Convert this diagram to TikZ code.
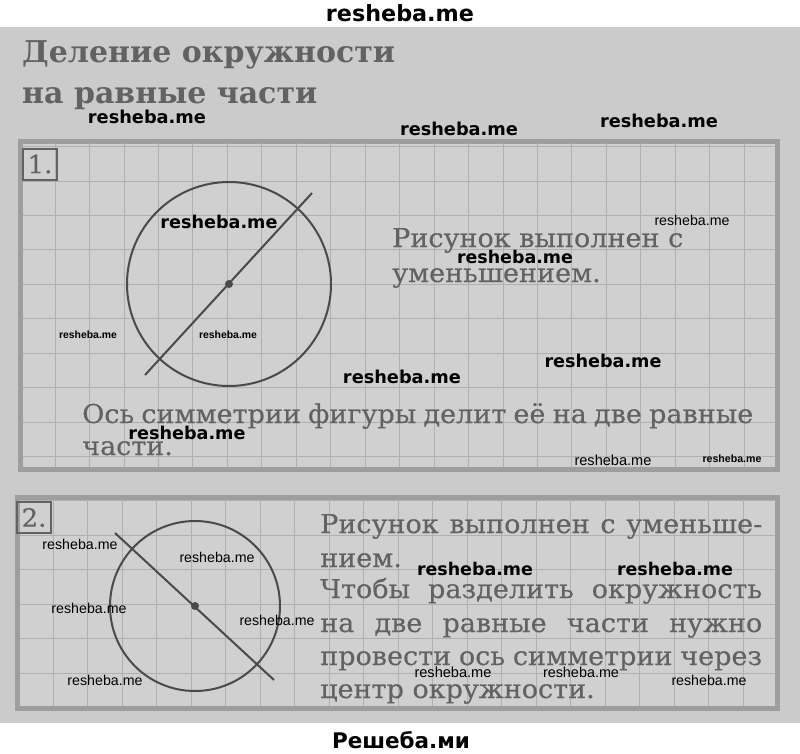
\documentclass[tikz,border=0pt]{standalone}
\usepackage{fontspec}
\setmainfont{DejaVu Serif}
\newfontfamily\bodyfont{DejaVu Serif}[FakeStretch=1.04, FakeBold=0.35]
\newfontfamily\wmfont{DejaVu Sans}
\newfontfamily\wmsfont{Liberation Sans}
\usepackage{graphicx}
\definecolor{pagegray}{HTML}{CBCBCB}
\definecolor{boxgray}{HTML}{D0D0D0}
\definecolor{gridgray}{HTML}{B0B0B0}
\definecolor{framegray}{HTML}{9E9E9E}
\definecolor{inkgray}{HTML}{626262}
\definecolor{figgray}{HTML}{4A4A4A}
\tikzset{
  frame/.style={draw=framegray, line width=5pt, fill=boxgray},
  gridline/.style={draw=gridgray, line width=0.8pt},
  figline/.style={draw=figgray, line width=2pt},
  dot/.style={circle, fill=figgray, inner sep=0pt, minimum size=8pt},
  title/.style={anchor=base west, inner sep=0pt, text=inkgray, font=\bfseries\fontsize{30}{30}\selectfont},
  body/.style={anchor=base west, inner sep=0pt, text=inkgray, font=\bodyfont\fontsize{26}{26}\selectfont},
  numbox/.style={draw=inkgray, line width=2pt, minimum width=34pt, minimum height=31pt, inner sep=0pt, text=inkgray, font=\bodyfont\fontsize{25}{25}\selectfont},
  wmb/.style={inner sep=0pt, text=black, font=\wmfont\bfseries},
  wms/.style={inner sep=0pt, text=black, font=\wmsfont},
}
\begin{document}
\begin{tikzpicture}[x=1pt,y=-1pt]
\useasboundingbox (0,0) rectangle (800,753);
\fill[white] (0,0) rectangle (800,753);
\fill[pagegray] (0,27) rectangle (800,723);

% title
\node[title] (t1) at (22,62) {Деление окружности};
\node[title] (t2) at (22,103) {на равные части};

% box 1
\draw[frame] (20,141) rectangle (777,469);
\begin{scope}
\clip (22.5,143.5) rectangle (774.5,466.5);
\foreach \i in {0,...,22} \draw[gridline] ({20.6+34.45*\i},141) -- ++(0,330);
\foreach \j in {0,...,9} \draw[gridline] (20,{146.5+34.45*\j}) -- ++(760,0);
\end{scope}
\node[numbox] (n1) at (40,164) {1.};
\draw[figline] (229,284) circle[radius=102pt];
\coordinate (l1a) at (145,375);
\coordinate (l1b) at (312,193);
\draw[figline] (l1a) -- (l1b);
\node[dot] (c1) at (229,284) {};
\node[body] (r1) at (392,247) {Рисунок выполнен с};
\node[body] (r2) at (392,282) {уменьшением.};
\node[body] (o1) at (82,423) {\makebox[671pt][s]{Ось симметрии фигуры делит её на две равные}};
\node[body] (o2) at (82,455) {части.};

% box 2
\draw[frame] (17,497) rectangle (777,708);
\begin{scope}
\clip (19.5,499.5) rectangle (774.5,705.5);
\foreach \i in {0,...,22} \draw[gridline] ({18.5+34.5*\i},497) -- ++(0,215);
\foreach \j in {0,...,6} \draw[gridline] (17,{500.5+34.5*\j}) -- ++(762,0);
\end{scope}
\node[numbox] (n2) at (34,517.5) {2.};
\draw[figline] (195,606) circle[radius=85pt];
\coordinate (l2a) at (115,533);
\coordinate (l2b) at (274,680);
\draw[figline] (l2a) -- (l2b);
\node[dot] (c2) at (195,606) {};
\node[body] (s1) at (320,533) {\makebox[442pt][s]{Рисунок выполнен с уменьше-}};
\node[body] (s2) at (320,567) {нием.};
\node[body] (s3) at (320,598) {\makebox[442pt][s]{Чтобы разделить окружность}};
\node[body] (s4) at (320,632) {\makebox[442pt][s]{на две равные части нужно}};
\node[body] (s5) at (320,665) {\makebox[442pt][s]{провести ось симметрии через}};
\node[body] (s6) at (320,698) {центр окружности.};

% watermarks
\node[wmb] (w0) at (400,13) {\resizebox{148pt}{!}{resheba.me}};
\node[wmb] (w1) at (147,117) {\resizebox{118pt}{!}{resheba.me}};
\node[wmb] (w2) at (459,129) {\resizebox{118pt}{!}{resheba.me}};
\node[wmb] (w3) at (659,121) {\resizebox{118pt}{!}{resheba.me}};
\node[wmb] (w4) at (219,222) {\resizebox{117pt}{!}{resheba.me}};
\node[wms] (w5) at (692,220) {\resizebox{75pt}{!}{resheba.me}};
\node[wmb] (w6) at (515,257) {\resizebox{116pt}{!}{resheba.me}};
\node[wms] (w7) at (88,335) {\resizebox{58pt}{!}{\bfseries resheba.me}};
\node[wms] (w8) at (228,335) {\resizebox{58pt}{!}{\bfseries resheba.me}};
\node[wmb] (w9) at (402,377) {\resizebox{118pt}{!}{resheba.me}};
\node[wmb] (w10) at (603,361) {\resizebox{117pt}{!}{resheba.me}};
\node[wmb] (w11) at (187,433) {\resizebox{117pt}{!}{resheba.me}};
\node[wms] (w12) at (613,460) {\resizebox{77pt}{!}{resheba.me}};
\node[wms] (w13) at (732,459) {\resizebox{59pt}{!}{\bfseries resheba.me}};
\node[wms] (w14) at (80,544) {\resizebox{75pt}{!}{resheba.me}};
\node[wms] (w15) at (217,557) {\resizebox{75pt}{!}{resheba.me}};
\node[wms] (w16) at (89,608) {\resizebox{75pt}{!}{resheba.me}};
\node[wms] (w17) at (277,620) {\resizebox{75pt}{!}{resheba.me}};
\node[wms] (w18) at (105,680) {\resizebox{75pt}{!}{resheba.me}};
\node[wmb] (w19) at (475,569) {\resizebox{116pt}{!}{resheba.me}};
\node[wmb] (w20) at (675,569) {\resizebox{116pt}{!}{resheba.me}};
\node[wms] (w21) at (453,672) {\resizebox{77pt}{!}{resheba.me}};
\node[wms] (w22) at (581,672) {\resizebox{76pt}{!}{resheba.me}};
\node[wms] (w23) at (709,680) {\resizebox{75pt}{!}{resheba.me}};
\node[wmb] (w24) at (401,740) {\resizebox{138pt}{!}{Решеба.ми}};
\end{tikzpicture}
\end{document}
